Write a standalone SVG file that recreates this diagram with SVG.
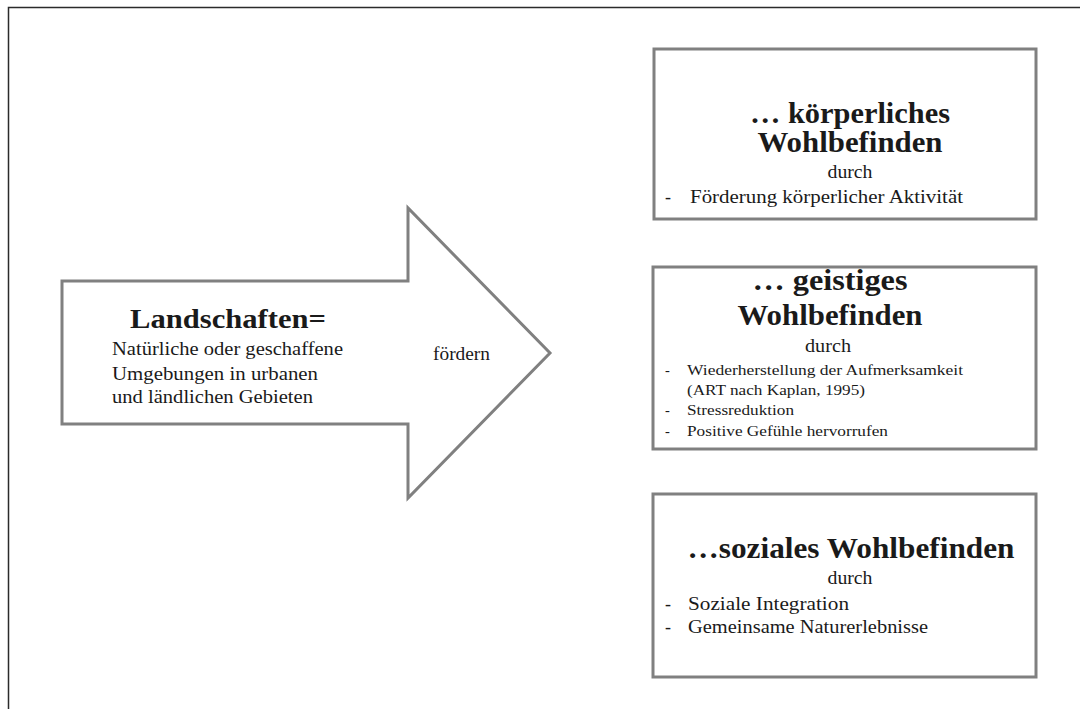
<svg xmlns="http://www.w3.org/2000/svg" width="1080" height="709" viewBox="0 0 1080 709">
  <style>
    .frame { fill: none; stroke: #2b2b2b; stroke-width: 1.5; }
    .shape { fill: #ffffff; stroke: #808080; stroke-width: 3; stroke-linejoin: miter; }
    text { font-family: "Liberation Serif", "DejaVu Serif", serif; fill: #1a1a1a; }
    .title { font-weight: bold; font-size: 29px; text-anchor: middle; }
    .lead { font-weight: bold; font-size: 28px; }
    .body { font-size: 18px; }
    .mid { font-size: 18px; text-anchor: middle; }
    .small { font-size: 14.5px; }
  </style>
  <rect width="1080" height="709" fill="#ffffff"/>
  <!-- page frame: top and left edges -->
  <path class="frame" d="M8.5,709 V7.5 H1080"/>

  <!-- big arrow: Landschaften -->
  <g id="landschaften">
    <polygon class="shape" points="62,281 408,281 408,208 550,353 408,498 408,424 62,424"/>
    <text class="lead" x="130" y="328" textLength="196" lengthAdjust="spacingAndGlyphs">Landschaften=</text>
    <text class="body" x="112" y="355" textLength="231" lengthAdjust="spacingAndGlyphs">Natürliche oder geschaffene</text>
    <text class="body" x="112" y="380" textLength="206" lengthAdjust="spacingAndGlyphs">Umgebungen in urbanen</text>
    <text class="body" x="112" y="403" textLength="201" lengthAdjust="spacingAndGlyphs">und ländlichen Gebieten</text>
  </g>

  <g id="connectors">
    <text class="body" x="433" y="360" textLength="57" lengthAdjust="spacingAndGlyphs">fördern</text>
  </g>

  <!-- physical well-being -->
  <g id="koerperlich">
    <rect class="shape" x="654" y="49" width="382" height="170"/>
    <text class="title" x="850" y="123" textLength="200" lengthAdjust="spacingAndGlyphs">… körperliches</text>
    <text class="title" x="850" y="152" textLength="185" lengthAdjust="spacingAndGlyphs">Wohlbefinden</text>
    <text class="mid" x="850" y="178" textLength="45" lengthAdjust="spacingAndGlyphs">durch</text>
    <text class="body" x="665" y="203">-</text>
    <text class="body" x="690" y="203" textLength="273" lengthAdjust="spacingAndGlyphs">Förderung körperlicher Aktivität</text>
  </g>

  <!-- mental well-being -->
  <g id="geistig">
    <rect class="shape" x="653" y="267" width="383" height="182"/>
    <text class="title" x="830" y="290" textLength="155" lengthAdjust="spacingAndGlyphs">… geistiges</text>
    <text class="title" x="830" y="325" textLength="185" lengthAdjust="spacingAndGlyphs">Wohlbefinden</text>
    <text class="mid" x="828" y="352" textLength="46" lengthAdjust="spacingAndGlyphs">durch</text>
    <text class="small" x="665" y="375">-</text>
    <text class="small" x="687" y="375" textLength="276" lengthAdjust="spacingAndGlyphs">Wiederherstellung der Aufmerksamkeit</text>
    <text class="small" x="687" y="395" textLength="178" lengthAdjust="spacingAndGlyphs">(ART nach Kaplan, 1995)</text>
    <text class="small" x="665" y="415">-</text>
    <text class="small" x="687" y="415" textLength="107" lengthAdjust="spacingAndGlyphs">Stressreduktion</text>
    <text class="small" x="665" y="436">-</text>
    <text class="small" x="687" y="436" textLength="201" lengthAdjust="spacingAndGlyphs">Positive Gefühle hervorrufen</text>
  </g>

  <!-- social well-being -->
  <g id="sozial">
    <rect class="shape" x="653" y="494" width="383" height="183"/>
    <text class="title" x="851" y="558" textLength="327" lengthAdjust="spacingAndGlyphs">…soziales Wohlbefinden</text>
    <text class="mid" x="850" y="584" textLength="45" lengthAdjust="spacingAndGlyphs">durch</text>
    <text class="body" x="665" y="610">-</text>
    <text class="body" x="688" y="610" textLength="161" lengthAdjust="spacingAndGlyphs">Soziale Integration</text>
    <text class="body" x="665" y="633">-</text>
    <text class="body" x="688" y="633" textLength="240" lengthAdjust="spacingAndGlyphs">Gemeinsame Naturerlebnisse</text>
  </g>
</svg>
